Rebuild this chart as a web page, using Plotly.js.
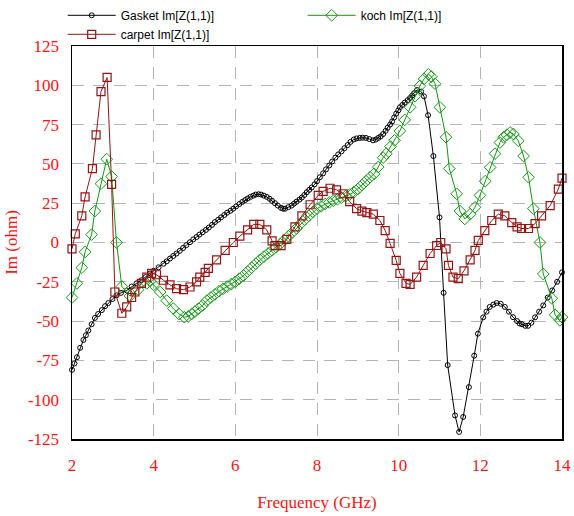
<!DOCTYPE html>
<html><head><meta charset="utf-8">
<script src="https://cdn.plot.ly/plotly-3.0.1.min.js"></script>
<style>html,body{margin:0;padding:0;background:#fff}</style>
</head><body>
<div id="chart" style="width:574px;height:516px"></div>
<script>
const gasketFreq = [2.0,2.06,2.12,2.2,2.28,2.34,2.4,2.48,2.56,2.64,2.73,2.81,2.89,2.99,3.09,3.2,3.34,3.46,3.58,3.7,3.8,3.91,4.0,4.12,4.24,4.32,4.4,4.48,4.56,4.64,4.72,4.8,4.89,4.97,5.05,5.12,5.2,5.28,5.35,5.43,5.5,5.58,5.65,5.73,5.8,5.88,5.95,6.02,6.1,6.17,6.24,6.3,6.37,6.44,6.5,6.57,6.63,6.7,6.77,6.84,6.9,6.97,7.04,7.12,7.17,7.22,7.3,7.38,7.44,7.5,7.57,7.63,7.69,7.75,7.81,7.87,7.94,8.0,8.07,8.15,8.22,8.3,8.37,8.45,8.52,8.6,8.67,8.75,8.82,8.9,8.97,9.05,9.12,9.2,9.28,9.37,9.44,9.5,9.56,9.62,9.68,9.73,9.79,9.84,9.89,9.94,9.99,10.03,10.09,10.15,10.22,10.28,10.33,10.38,10.45,10.55,10.62,10.72,10.85,11.0,11.1,11.2,11.38,11.48,11.58,11.72,11.85,11.94,12.07,12.15,12.23,12.32,12.4,12.5,12.6,12.7,12.8,12.9,12.96,13.02,13.1,13.17,13.25,13.34,13.44,13.54,13.65,13.76,13.88,14.0];
const gasketIm = [-81,-77,-73,-67,-62,-59,-56,-52,-48,-45.5,-43,-40.5,-38.5,-36,-33.6,-32,-30.5,-28,-26,-24,-22,-19.7,-18,-15.8,-13.5,-12,-10.2,-8.6,-7,-5.3,-3.5,-1.7,0.2,2,3.5,5,6.5,8,9.5,11.2,13,14.5,16,17.5,19,20.2,21.5,23,24.5,25.8,27,28,29,29.8,30.5,30.7,30.5,29.8,29,27.8,26.5,25,23.5,22,21.5,21.5,22.5,23.5,24.8,26,27.3,28.6,30.2,32,33.5,35,37,39,41.5,44,46.5,49,51.5,54,56,58,60,62,64,65.5,66.2,66.5,66.7,66.5,65.8,65,65.5,66.5,67.5,69,71,73,75,77,79.5,82,84,86,87.5,89,90.5,92,93.5,95,97,96,93,81,55,16,-32,-78,-110,-120.5,-111,-92,-72,-58,-47.6,-44,-41,-39.5,-38.5,-39,-41,-44,-47.5,-50,-51.5,-52,-53,-53,-51,-47.6,-44,-40,-35,-30.5,-25,-19];

const kochFreq = [2.0,2.12,2.24,2.32,2.48,2.56,2.71,2.85,2.97,3.09,3.22,3.42,3.62,3.83,3.92,4.0,4.16,4.32,4.48,4.62,4.75,4.85,4.93,5.01,5.1,5.2,5.3,5.4,5.5,5.6,5.7,5.8,5.9,6.0,6.1,6.2,6.3,6.4,6.5,6.6,6.7,6.8,6.9,7.0,7.1,7.2,7.3,7.4,7.5,7.6,7.7,7.8,7.9,8.0,8.1,8.2,8.3,8.4,8.5,8.6,8.7,8.8,8.9,9.0,9.1,9.2,9.3,9.4,9.5,9.62,9.7,9.8,9.9,10.03,10.15,10.28,10.4,10.52,10.62,10.73,10.8,10.89,11.01,11.16,11.24,11.42,11.5,11.62,11.75,11.87,11.99,12.12,12.24,12.36,12.48,12.57,12.65,12.73,12.81,12.93,13.06,13.18,13.3,13.46,13.54,13.75,13.83,13.95,14.0];
const kochIm = [-35,-26,-16,-6,5,20,37.4,53,42,0,-28,-34,-30,-26,-24.5,-27,-31.5,-37,-42,-45.5,-47.5,-47,-45.5,-44,-42,-40,-37,-35,-33,-31,-29.5,-28,-26.5,-25,-23,-21,-18.5,-16,-13.5,-11,-9,-7,-5,-3,-1,1.5,4,6.5,9,12,14.5,17,19.5,21.5,23,24.5,25.5,26.6,27.5,28.5,29.5,30.5,32,34,36.5,39,41.5,43.7,48,54,56.5,61,65,71,78,86,93,99.6,104,107,105.5,101,86,67,47,31,20,15,18,22.4,30,39,47.8,56.5,63.6,67,68.5,70,69,64.7,55,41.5,21.5,0,-20,-35.5,-46,-49.5,-47.5];

const carpetFreq = [2.0,2.08,2.24,2.32,2.5,2.59,2.71,2.86,2.97,3.05,3.22,3.34,3.46,3.54,3.7,3.83,3.95,4.07,4.24,4.4,4.56,4.73,4.89,5.05,5.13,5.26,5.34,5.54,5.75,5.95,6.11,6.3,6.45,6.6,6.77,6.9,6.97,7.12,7.26,7.46,7.63,7.83,8.03,8.15,8.32,8.48,8.64,8.8,8.97,9.1,9.22,9.38,9.54,9.67,9.79,9.94,10.03,10.18,10.28,10.44,10.6,10.77,10.93,11.03,11.16,11.22,11.33,11.46,11.6,11.75,11.87,11.95,12.11,12.28,12.44,12.6,12.77,12.9,13.01,13.18,13.34,13.5,13.71,13.91,14.0];
const carpetIm = [-4,5.5,17,29,47,68.5,96,105,37,-31.5,-45,-41,-35,-31.5,-26,-22,-19.7,-20.5,-24,-27,-29.4,-30,-28.3,-25,-22,-19,-16.5,-11,-5,0,4,8,11.5,11.5,8,1,-2,-2,2,10,17,24,30,32.5,34.5,33.5,31,26,21.5,20,19,18,14,7.6,-0.6,-11.4,-19.7,-26,-26.7,-22,-14.6,-7,-1.9,0,-4,-14.6,-22,-23,-18,-11,-5,1.3,7.6,14,18,17,12.7,10,8.9,8.9,12,17,23.5,34,41];

const seriesNames = ['Gasket Im[Z(1,1)]', 'koch Im[Z(1,1)]', 'carpet Im[Z(1,1)]'];
const xTicks = [2,4,6,8,10,12,14];
const yTicks = [-125,-100,-75,-50,-25,0,25,50,75,100,125];

const red = 'rgb(255,20,20)';
const serif = 'Liberation Serif, serif';

const traces = [
  {x: gasketFreq, y: gasketIm, name: seriesNames[0], type: 'scatter', mode: 'lines+markers', cliponaxis: false,
   line: {color: '#000000', width: 1}, marker: {symbol: 'circle-open', size: 5, color: '#000000', line: {width: 1}}},
  {x: kochFreq, y: kochIm, name: seriesNames[1], type: 'scatter', mode: 'lines+markers', cliponaxis: false,
   line: {color: 'rgb(20,150,20)', width: 1}, marker: {symbol: 'diamond-open', size: 9, color: 'rgb(20,150,20)', line: {width: 1}}},
  {x: carpetFreq, y: carpetIm, name: seriesNames[2], type: 'scatter', mode: 'lines+markers', cliponaxis: false,
   line: {color: 'rgb(150,20,20)', width: 1}, marker: {symbol: 'square-open', size: 8, color: 'rgb(150,20,20)', line: {width: 1.2}}}
];

const layout = {
  width: 574, height: 516,
  margin: {l: 72, r: 12, t: 46, b: 77, autoexpand: false},
  paper_bgcolor: '#ffffff', plot_bgcolor: '#ffffff',
  showlegend: true,
  legend: {orientation: 'h', x: -0.019, xanchor: 'left', y: 1.115, yanchor: 'top',
           entrywidth: 177, entrywidthmode: 'pixels', itemwidth: 48, tracegroupgap: 0,
           font: {family: 'Liberation Sans, Arial, sans-serif', size: 12, color: '#000000'},
           bgcolor: 'rgba(0,0,0,0)'},
  xaxis: {range: [2, 14], tickvals: xTicks, ticktext: xTicks.map(String), ticks: '',
          showgrid: true, gridcolor: '#b4b4b4', griddash: '12px,9px', gridwidth: 1,
          zeroline: false, showline: true, mirror: true, linecolor: '#000000', linewidth: 1.5,
          tickfont: {family: serif, size: 17, color: red}, ticklabelstandoff: 10,
          title: {text: 'Frequency (GHz)', font: {family: serif, size: 17, color: red}, standoff: 22}},
  yaxis: {range: [-125, 125], tickvals: yTicks, ticktext: yTicks.map(String), ticks: '',
          showgrid: true, gridcolor: '#b4b4b4', griddash: '12px,9px', gridwidth: 1,
          zeroline: false, showline: true, mirror: true, linecolor: '#000000', linewidth: 1.5,
          tickfont: {family: serif, size: 17, color: red}, ticklabelstandoff: 8,
          title: {text: 'Im (ohm)', font: {family: serif, size: 17, color: red}, standoff: 6}}
};

Plotly.newPlot('chart', traces, layout, {displayModeBar: false, staticPlot: true});
</script>
</body></html>
